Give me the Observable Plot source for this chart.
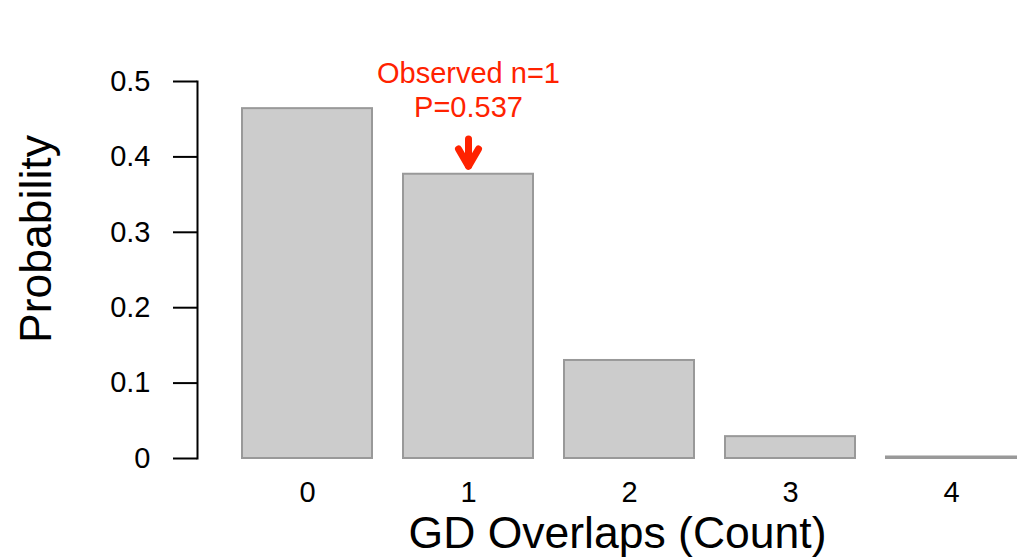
<!DOCTYPE html>
<html>
<head>
<meta charset="utf-8">
<script src="https://cdn.jsdelivr.net/npm/d3@7"></script>
<script src="https://cdn.jsdelivr.net/npm/@observablehq/plot@0.6"></script>
<style>
  html, body { margin: 0; padding: 0; background: #ffffff; }
  #chart svg { display: block; }
</style>
</head>
<body>
<div id="chart"></div>
<script>
// ---- data ----
const counts = ["0", "1", "2", "3", "4"];
const probabilities = [0.464, 0.377, 0.130, 0.029, 0.002];
const yTicks = [0, 0.1, 0.2, 0.3, 0.4, 0.5];
const yTickLabels = ["0", "0.1", "0.2", "0.3", "0.4", "0.5"];
const observedCount = "1";
const observedP = 0.537;
const xTitle = "GD Overlaps (Count)";
const yTitle = "Probability";

const bars = counts.map((c, i) => ({count: c, p: probabilities[i]}));
const red = "#ff2200";
const font = "'Liberation Sans', Arial, Helvetica, sans-serif";

// chevron arrow head (R arrows(), angle = 30)
const chevron = {
  draw(context, size) {
    const L = Math.sqrt(size / Math.PI);
    const a = Math.PI / 6;
    context.moveTo(-L * Math.sin(a), -L * Math.cos(a));
    context.lineTo(0, 0);
    context.lineTo(L * Math.sin(a), -L * Math.cos(a));
  }
};

const chart = Plot.plot({
  width: 1025,
  height: 559,
  marginLeft: 197,
  marginRight: 0,
  marginTop: 81,
  marginBottom: 101,
  style: {fontFamily: font, color: "#000", background: "#fff"},
  x: {domain: counts, range: [211, 1047], padding: 0.19, axis: null},
  y: {domain: [0, 0.5], axis: null},
  marks: [
    Plot.barY(bars, {x: "count", y: "p", fill: "#cccccc", stroke: "#999999", strokeWidth: 2}),
    Plot.frame({anchor: "left", stroke: "#000", strokeWidth: 2}),
    Plot.axisY({ticks: yTicks, tickFormat: (d) => yTickLabels[yTicks.indexOf(d)], tickSize: 24, tickPadding: 23, fontSize: 29, strokeWidth: 2, label: null, stroke: "#000", fill: "#000"}),
    Plot.axisX({tickSize: 0, tickPadding: 23, fontSize: 29, label: null, fill: "#000"}),
    Plot.text([xTitle], {frameAnchor: "bottom", lineAnchor: "bottom", dy: 89, dx: 6, fontSize: 44.5, fill: "#000"}),
    Plot.text([yTitle], {frameAnchor: "left", textAnchor: "middle", rotate: -90, dx: -161, dy: -31, fontSize: 44.5, fill: "#000"}),
    Plot.text([{x: observedCount, label: `Observed n=${observedCount}\nP=${observedP}`}], {
      x: "x", y: () => 0.4523, text: "label", lineAnchor: "bottom", lineHeight: 1.18,
      fontSize: 29, fill: red
    }),
    Plot.ruleX([{x: observedCount}], {x: "x", y1: () => 0.4231, y2: () => 0.3875, stroke: red, strokeWidth: 7, strokeLinecap: "round"}),
    Plot.dot([{x: observedCount}], {x: "x", y: () => 0.3875, symbol: chevron, r: 20, fill: "none", stroke: red, strokeWidth: 7, strokeLinecap: "round", strokeLinejoin: "round"})
  ]
});
document.getElementById("chart").appendChild(chart);
</script>
</body>
</html>
